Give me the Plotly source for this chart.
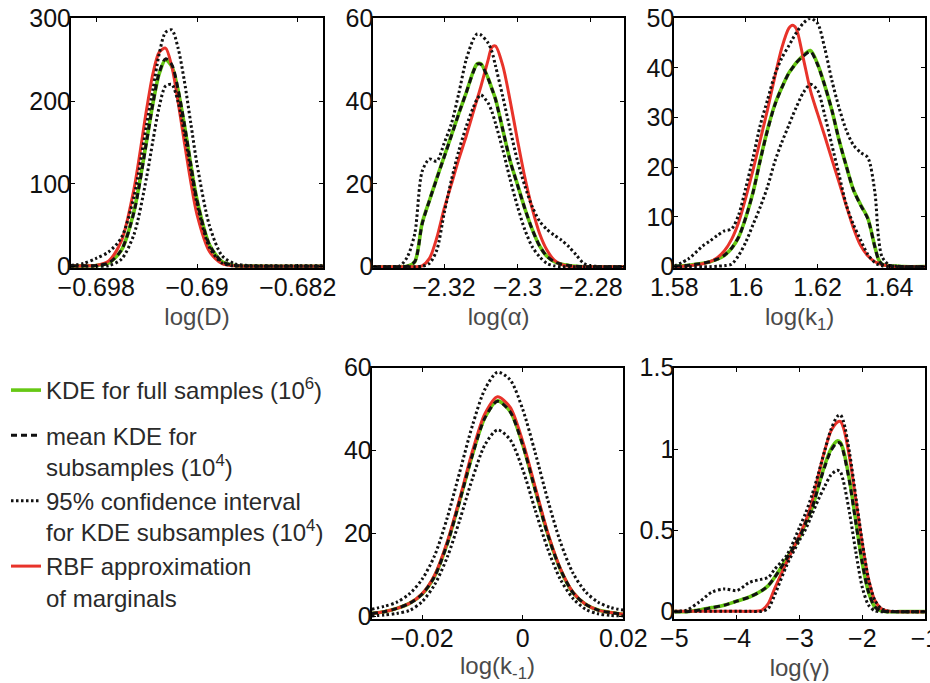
import plotly.graph_objects as go

# ---------------- data ----------------
# Panel 1: log(D)
d_x = [-0.7, -0.699, -0.698, -0.697, -0.696, -0.695, -0.694, -0.6935, -0.693, -0.6925,
       -0.692, -0.6915, -0.691, -0.6905, -0.690, -0.689, -0.688, -0.687, -0.686, -0.684,
       -0.682, -0.68]
d_full = [1, 1, 1.5, 4.5, 20, 67, 152, 197, 233, 250, 242, 213, 171, 124, 81, 26, 6, 1.5,
          0.8, 0.5, 0.5, 0.5]
d_mean = [1, 1, 1.5, 4.5, 20, 66, 151, 197, 234, 251, 244, 214, 172, 124, 80, 26, 6, 1.5,
          0.8, 0.5, 0.5, 0.5]
d_low = [0.5, 0.5, 0.5, 1.3, 9, 39, 108, 152, 193, 218, 220, 199, 161, 117, 76, 23, 4.4,
         0.8, 0.5, 0.5, 0.5, 0.5]
d_high = [1.5, 4, 10, 18, 35, 85, 172, 214, 257, 283, 286, 264, 224, 174, 124, 49, 13, 3.5,
          1.5, 1, 1, 1]
d_rbf = [1, 1, 1.5, 7, 31, 94, 190, 233, 259, 264, 242, 199, 150, 103, 63, 18, 3.5, 1, 0.6,
         0.5, 0.5, 0.5]

# Panel 2: log(alpha)
a_x = [-2.3393, -2.334, -2.332, -2.330, -2.328, -2.326, -2.324, -2.322, -2.320, -2.318,
       -2.316, -2.314, -2.312, -2.311, -2.310, -2.308, -2.307, -2.306, -2.304, -2.302,
       -2.300, -2.298, -2.296, -2.294, -2.292, -2.290, -2.288, -2.286, -2.284, -2.282,
       -2.280, -2.276, -2.271]
a_full = [0, 0, 0, 0.1, 1.2, 10.5, 16, 21.4, 26.6, 31.8, 37, 42, 47.3, 49, 49, 45.5, 43,
          40.5, 33, 25.5, 19.8, 14, 9, 5, 2.5, 1.2, 0.6, 0.3, 0.1, 0, 0, 0, 0]
a_mean = [0, 0, 0, 0.1, 1.2, 10.3, 16, 21.3, 26.5, 31.7, 37, 42, 47.2, 48.9, 48.9, 45.4, 43,
          40.4, 33, 25.5, 19.7, 14, 9, 5, 2.5, 1.2, 0.6, 0.3, 0.1, 0, 0, 0, 0]
a_low = [0, 0, 0, 0, 0, 0.1, 0.8, 4, 12.9, 21, 28, 33.8, 38.6, 40.5, 41.5, 39.5, 37.5, 34.6,
         28.2, 21, 14.5, 8.9, 4.8, 2.4, 0.8, 0.2, 0, 0, 0, 0, 0, 0, 0]
a_high = [0, 0, 0.2, 2.4, 8, 23, 26, 25.5, 29.8, 34.6, 41.9, 50, 55, 56.2, 56, 54, 52, 48.5,
          41, 33, 25.5, 19.5, 14.5, 11, 9, 7.6, 6.4, 4.8, 2.8, 0.8, 0.2, 0, 0]
a_rbf = [0, 0, 0, 0, 0, 0.2, 2, 7, 14, 20, 26, 31.5, 37.5, 40.5, 43.5, 50, 53, 53.3, 48.5,
         40, 30.5, 21.5, 14, 8, 4, 1.6, 0.5, 0.1, 0, 0, 0, 0, 0]

# Panel 3: log(k1)
k1_x = [1.58, 1.584, 1.588, 1.590, 1.592, 1.594, 1.596, 1.598, 1.600, 1.602, 1.604, 1.606,
        1.608, 1.610, 1.612, 1.613, 1.614, 1.616, 1.618, 1.620, 1.622, 1.624, 1.626, 1.628,
        1.630, 1.632, 1.634, 1.636, 1.637, 1.638, 1.640, 1.642, 1.644, 1.65]
k1_full = [0.1, 0.3, 0.7, 1, 1.5, 2.3, 3.7, 6, 10, 15, 21.5, 27.5, 32.5, 36, 39, 40, 41,
           42.5, 43.5, 40.8, 36.5, 31.5, 25.5, 20.3, 15.5, 12.5, 9.8, 4, 1.5, 0.5, 0.2, 0.1,
           0, 0]
k1_mean = [0.1, 0.3, 0.7, 1, 1.5, 2.3, 3.7, 6, 10, 15, 21.4, 27.4, 32.4, 36, 39, 40, 41,
           42.4, 43.3, 40.7, 36.5, 31.5, 25.5, 20.3, 15.5, 12.4, 9.7, 4, 1.5, 0.5, 0.2, 0.1,
           0, 0]
k1_low = [0, 0, 0, 0, 0.1, 0.2, 0.5, 2.3, 5, 8.5, 12, 16, 21, 25, 28.5, 30.3, 32, 35, 36.7,
          35.5, 30.5, 24.5, 18.5, 12.5, 8.5, 5.4, 2.5, 0.8, 0.4, 0.2, 0, 0, 0, 0]
k1_high = [0.1, 1.6, 4.2, 5.2, 6.3, 7.2, 7.6, 10.5, 16, 22, 28.5, 33.5, 38.5, 42, 44.5, 45.8,
           47, 49, 50, 49, 44, 37.5, 32, 27.5, 24.5, 23, 22, 15, 6, 2, 0.3, 0.1, 0, 0]
k1_rbf = [0, 0.2, 0.6, 1, 1.8, 3.2, 5.5, 9, 14, 19.5, 25.5, 31.5, 38, 44, 48, 48.6, 48, 42,
          35.5, 30.8, 26.3, 21.6, 17, 12.3, 7.8, 4.3, 2.2, 1, 0.7, 0.4, 0.1, 0, 0, 0]

# Panel 4: log(k-1)
km_x = [-0.03, -0.0275, -0.025, -0.0225, -0.02, -0.0175, -0.015, -0.0125, -0.01, -0.0075,
        -0.005, -0.0025, 0.0, 0.0025, 0.005, 0.0075, 0.01, 0.0125, 0.015, 0.0175, 0.02]
km_full = [0.8, 1.2, 2, 3.2, 5.4, 9.8, 17.6, 28, 39, 48, 52, 49.5, 41.5, 30.6, 19.8, 11.4,
           5.8, 3, 1.6, 1, 0.6]
km_mean = [0.8, 1.2, 2, 3.2, 5.4, 9.7, 17.5, 27.9, 38.9, 47.9, 51.9, 49.4, 41.4, 30.5,
           19.7, 11.4, 5.8, 3, 1.6, 1, 0.6]
km_low = [0.2, 0.4, 0.8, 1.5, 3.6, 7.7, 14.3, 23.3, 33.2, 41.4, 45, 42.7, 35.5, 25.7, 16.3,
          9, 4.4, 1.8, 0.7, 0.3, 0.2]
km_high = [1.8, 2.5, 3.5, 5.5, 9, 14.7, 23.8, 34.9, 46, 54.8, 58.9, 57.1, 50, 39.5, 28.1,
           18, 10.5, 6, 3.5, 2.2, 1.6]
km_rbf = [0.8, 1.2, 2, 3.2, 5.5, 10, 18, 28.5, 39.8, 48.9, 53, 50.5, 42.3, 31.2, 20.2, 11.6,
          5.9, 3, 1.6, 1, 0.6]

# Panel 5: log(gamma)
g_x = [-5, -4.8, -4.6, -4.4, -4.2, -4.0, -3.8, -3.6, -3.5, -3.4, -3.2, -3.0, -2.9, -2.8,
       -2.7, -2.6, -2.5, -2.4, -2.35, -2.3, -2.2, -2.1, -2.0, -1.9, -1.8, -1.7, -1.6, -1.4,
       -1.2, -1.0]
g_full = [0, 0, 0.01, 0.025, 0.04, 0.065, 0.09, 0.13, 0.16, 0.21, 0.33, 0.46, 0.55, 0.64,
          0.77, 0.9, 1.0, 1.05, 1.04, 0.99, 0.8, 0.55, 0.3, 0.12, 0.03, 0.005, 0, 0, 0, 0]
g_mean = [0, 0, 0.01, 0.025, 0.04, 0.065, 0.09, 0.13, 0.16, 0.21, 0.33, 0.46, 0.55, 0.64,
          0.77, 0.89, 0.99, 1.04, 1.035, 0.98, 0.79, 0.54, 0.3, 0.12, 0.03, 0.005, 0, 0, 0, 0]
g_low = [0.002, 0.002, 0.002, 0.002, 0.002, 0.002, 0.002, 0.002, 0.02, 0.1, 0.29, 0.44,
         0.51, 0.6, 0.69, 0.77, 0.84, 0.87, 0.86, 0.8, 0.6, 0.36, 0.15, 0.04, 0.005, 0, 0, 0,
         0, 0]
g_high = [0, 0.01, 0.06, 0.12, 0.14, 0.13, 0.18, 0.2, 0.21, 0.26, 0.35, 0.52, 0.61, 0.72,
          0.85, 0.99, 1.12, 1.2, 1.21, 1.17, 0.97, 0.7, 0.43, 0.2, 0.07, 0.02, 0.005, 0, 0, 0]
g_rbf = [0.002, 0.002, 0.002, 0.002, 0.002, 0.002, 0.002, 0.01, 0.05, 0.14, 0.31, 0.47,
         0.56, 0.68, 0.84, 0.99, 1.11, 1.165, 1.17, 1.13, 0.94, 0.68, 0.42, 0.2, 0.07, 0.02,
         0.005, 0, 0, 0]

# axis labels / ticks
x_titles = ["log(D)", "log(α)", "log(k<sub>1</sub>)", "log(k<sub>-1</sub>)", "log(γ)"]
x_tickvals = [[-0.698, -0.69, -0.682], [-2.32, -2.3, -2.28], [1.58, 1.6, 1.62, 1.64],
              [-0.02, 0, 0.02], [-5, -4, -3, -2, -1]]
x_ticktext = [["−0.698", "−0.69", "−0.682"], ["−2.32", "−2.3", "−2.28"],
              ["1.58", "1.6", "1.62", "1.64"], ["−0.02", "0", "0.02"],
              ["−5", "−4", "−3", "−2", "−1"]]
y_tickvals = [[0, 100, 200, 300], [0, 20, 40, 60], [0, 10, 20, 30, 40, 50],
              [0, 20, 40, 60], [0, 0.5, 1, 1.5]]
y_ticktext = [["0", "100", "200", "300"], ["0", "20", "40", "60"],
              ["0", "10", "20", "30", "40", "50"], ["0", "20", "40", "60"],
              ["0", "0.5", "1", "1.5"]]
x_ranges = [[-0.7, -0.68], [-2.3393, -2.271], [1.58, 1.65], [-0.03, 0.02], [-5, -0.999]]
y_ranges = [[-1.6, 300], [-0.32, 60], [-0.27, 50], [-0.43, 60], [-0.047, 1.5]]

legend_names = ["KDE for full samples (10<sup>6</sup>)",
                "mean KDE for<br>subsamples (10<sup>4</sup>)",
                "95% confidence interval<br>for KDE subsamples (10<sup>4</sup>)",
                "RBF approximation<br>of marginals"]

panels = [
    (d_x, d_full, d_mean, d_low, d_high, d_rbf),
    (a_x, a_full, a_mean, a_low, a_high, a_rbf),
    (k1_x, k1_full, k1_mean, k1_low, k1_high, k1_rbf),
    (km_x, km_full, km_mean, km_low, km_high, km_rbf),
    (g_x, g_full, g_mean, g_low, g_high, g_rbf),
]

# ---------------- layout geometry ----------------
W, H = 930, 683
frames = [  # left, right, top, bottom in px
    (71, 323, 18.3, 268),
    (373.3, 624, 18.3, 268),
    (674.3, 925, 18.3, 268),
    (371.7, 623.3, 367.7, 618.5),
    (674.3, 925, 367.7, 619.3),
]

GREEN = "#66c814"
RED = "#e8332a"
BLACK = "#111111"
FONT = "Liberation Sans, Arial, Helvetica, sans-serif"

fig = go.Figure()
for i, (xs, full, mean, low, high, rbf) in enumerate(panels):
    xa = "x" if i == 0 else f"x{i+1}"
    ya = "y" if i == 0 else f"y{i+1}"
    show = (i == 0)
    common = dict(xaxis=xa, yaxis=ya, mode="lines", line_shape="spline")
    fig.add_trace(go.Scatter(x=xs, y=full, name=legend_names[0], showlegend=show,
                             legendrank=1, legendgroup="a",
                             line=dict(color=GREEN, width=3.6, smoothing=0.8), **common))
    fig.add_trace(go.Scatter(x=xs, y=rbf, name=legend_names[3], showlegend=show,
                             legendrank=4, legendgroup="b",
                             line=dict(color=RED, width=3, smoothing=0.8), **common))
    fig.add_trace(go.Scatter(x=xs, y=mean, name=legend_names[1], showlegend=show,
                             legendrank=2, legendgroup="b",
                             line=dict(color=BLACK, width=3, dash="6px,4px", smoothing=0.8),
                             **common))
    fig.add_trace(go.Scatter(x=xs, y=low, name=legend_names[2], showlegend=show,
                             legendrank=3, legendgroup="b",
                             line=dict(color=BLACK, width=3, dash="2.5px,2.5px", smoothing=0.8),
                             **common))
    fig.add_trace(go.Scatter(x=xs, y=high, name=legend_names[2], showlegend=False,
                             legendgroup="b",
                             line=dict(color=BLACK, width=3, dash="2.5px,2.5px", smoothing=0.8),
                             **common))

axis_common = dict(showgrid=False, zeroline=False, showline=True, linecolor="black",
                   linewidth=2, mirror="ticks", ticks="inside", ticklen=4, tickwidth=1,
                   tickcolor="black", automargin=False, ticklabeloverflow="allow",
                   tickfont=dict(family=FONT, size=25, color="#111111"))

layout = {}
for i, (l, r, t, b) in enumerate(frames):
    xk = "xaxis" if i == 0 else f"xaxis{i+1}"
    yk = "yaxis" if i == 0 else f"yaxis{i+1}"
    xa = "x" if i == 0 else f"x{i+1}"
    ya = "y" if i == 0 else f"y{i+1}"
    layout[xk] = dict(domain=[l / W, r / W], anchor=ya, range=x_ranges[i],
                      tickmode="array", tickvals=x_tickvals[i], ticktext=x_ticktext[i],
                      ticklabelstandoff=-4,
                      title=dict(text=x_titles[i], standoff=8,
                                 font=dict(family=FONT, size=24, color="#4a4a4a")),
                      **axis_common)
    layout[yk] = dict(domain=[1 - b / H, 1 - t / H], anchor=xa, range=y_ranges[i],
                      tickmode="array", tickvals=y_tickvals[i], ticktext=y_ticktext[i],
                      ticklabelstandoff=-7,
                      **axis_common)

fig.update_layout(
    template="none",
    width=W, height=H,
    margin=dict(l=0, r=0, t=0, b=0, pad=0),
    paper_bgcolor="white", plot_bgcolor="white",
    showlegend=True,
    legend=dict(x=6 / W, y=1 - 368 / H, xanchor="left", yanchor="top",
                font=dict(family=FONT, size=24, color="#2a2a2a"),
                valign="top", traceorder="grouped", bgcolor="rgba(0,0,0,0)",
                itemwidth=30, tracegroupgap=11),
    **layout,
)

fig.write_html("out.html")
